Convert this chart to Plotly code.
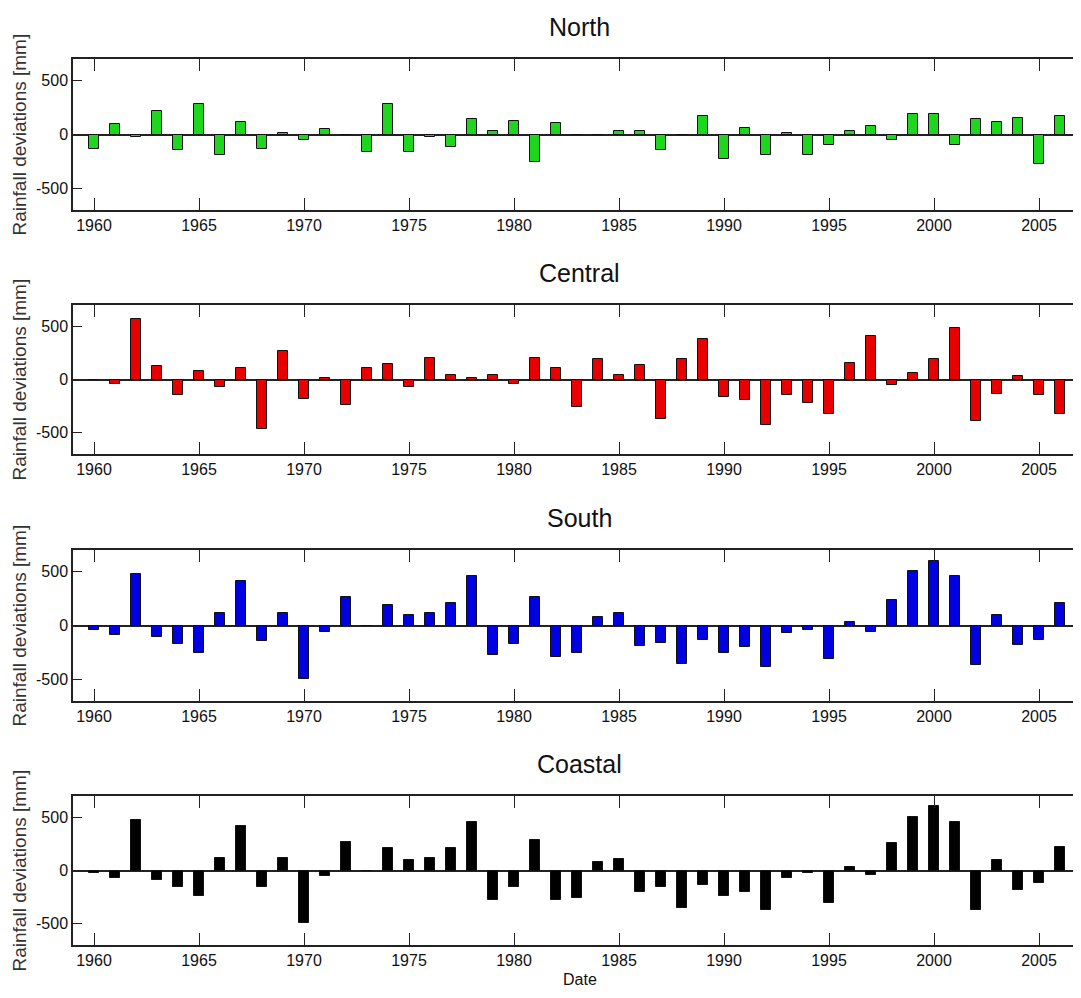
import plotly.graph_objects as go

years = list(range(1960, 2007))

north = [-130, 100, -20, 220, -147, 285, -190, 113, -132, 15,
         -52, 49, 0, -160, 285, -163, -20, -113, 144, 34,
         126, -255, 110, 0, 0, 34, 34, -144, 0, 175,
         -224, 64, -193, 10, -193, -98, 34, 80, -52, 190,
         190, -98, 144, 113, 156, -270, 175]

central = [0, -40, 568, 127, -148, 80, -71, 111, -466, 268,
           -179, 15, -244, 111, 142, -71, 204, 46, 15, 46,
           -40, 204, 111, -259, 188, 46, 139, -370, 188, 377,
           -164, -194, -432, -148, -225, -321, 157, 407, -52, 62,
           188, 485, -386, -133, 31, -148, -321]

south = [-40, -90, 475, -102, -167, -259, 114, 414, -148, 114,
         -494, -56, 268, 0, 191, 99, 114, 207, 460, -275,
         -167, 268, -293, -259, 80, 114, -194, -164, -355, -133,
         -259, -198, -386, -71, -40, -306, 34, -56, 238, 506,
         602, 460, -370, 96, -179, -133, 207]

coastal = [-25, -71, 475, -86, -151, -244, 114, 414, -151, 114,
           -494, -56, 272, 0, 210, 102, 114, 210, 460, -275,
           -151, 287, -275, -259, 83, 111, -198, -151, -355, -133,
           -244, -198, -370, -71, -25, -309, 34, -40, 256, 506,
           602, 460, -370, 99, -179, -117, 225]

region_names = ["North", "Central", "South", "Coastal"]
region_values = [north, central, south, coastal]
region_colors = ["#1fd61f", "#e80000", "#0000e0", "#000000"]

x_ticks = [1960, 1965, 1970, 1975, 1980, 1985, 1990, 1995, 2000, 2005]
y_ticks = [-500, 0, 500]
y_label = "Rainfall deviations [mm]"
x_label = "Date"

# the page body adds an 8 px margin on every side; positions below are page pixels
OFF = 8
W, H = 1081 - 2 * OFF, 998 - 2 * OFF
ML = 73 - OFF
PW = W - ML

def fy(page_y):
    return 1 - (page_y - OFF) / H

def fx(page_x):
    return (page_x - OFF - ML) / PW

# panel page-pixel extents (top, bottom)
panels_px = [(59, 210), (305, 454), (550, 701), (796, 945)]
title_px = [27, 273, 518, 764]

FONT = "Liberation Sans, Arial"

fig = go.Figure()
for i, (name, vals, col) in enumerate(zip(region_names, region_values, region_colors)):
    idx = "" if i == 0 else str(i + 1)
    fig.add_trace(go.Bar(
        x=years, y=vals, width=0.5,
        marker=dict(color=col, line=dict(color="#111111", width=1)),
        xaxis="x" + idx, yaxis="y" + idx, showlegend=False,
    ))

px_per_year = 21.0
x0 = 1960 - (94 - 73) / px_per_year
x1 = x0 + PW / px_per_year

layout = dict(
    width=W, height=H,
    margin=dict(l=ML, r=0, t=0, b=0, pad=0),
    plot_bgcolor="white", paper_bgcolor="white",
    bargap=0,
    annotations=[],
)

for i, (top, bot) in enumerate(panels_px):
    idx = "" if i == 0 else str(i + 1)
    dom = [fy(bot), fy(top)]
    layout["xaxis" + idx] = dict(
        domain=[0, 1], range=[x0, x1], anchor="y" + idx,
        tickmode="array", tickvals=x_ticks, ticktext=[str(t) for t in x_ticks],
        ticks="inside", ticklen=12, tickwidth=1, tickcolor="#222",
        showline=True, linecolor="#222", linewidth=1.5, mirror="ticks",
        showgrid=False, zeroline=False,
        tickfont=dict(family=FONT, size=16, color="#111"),
    )
    layout["yaxis" + idx] = dict(
        domain=dom, range=[-700, 700], anchor="x" + idx,
        tickmode="array", tickvals=y_ticks, ticktext=[str(t) for t in y_ticks],
        ticks="inside", ticklen=9, tickwidth=1, tickcolor="#222",
        showline=True, linecolor="#222", linewidth=1.5, mirror=False,
        showgrid=False, zeroline=True, zerolinecolor="#222", zerolinewidth=1.5,
        tickfont=dict(family=FONT, size=16, color="#111"),
    )
    layout["annotations"].append(dict(
        text=region_names[i], xref="paper", yref="paper",
        x=fx(579), y=fy(title_px[i]),
        xanchor="center", yanchor="middle", showarrow=False,
        font=dict(family=FONT, size=25, color="#111"),
    ))
    layout["annotations"].append(dict(
        text=y_label, xref="paper", yref="paper",
        x=fx(19), y=fy((top + bot) / 2),
        xanchor="center", yanchor="middle", showarrow=False, textangle=-90,
        font=dict(family=FONT, size=19, color="#333"),
    ))

layout["annotations"].append(dict(
    text=x_label, xref="paper", yref="paper",
    x=fx(580), y=fy(979),
    xanchor="center", yanchor="middle", showarrow=False,
    font=dict(family=FONT, size=16, color="#111"),
))

fig.update_layout(**layout)
fig.write_html("out.html")
